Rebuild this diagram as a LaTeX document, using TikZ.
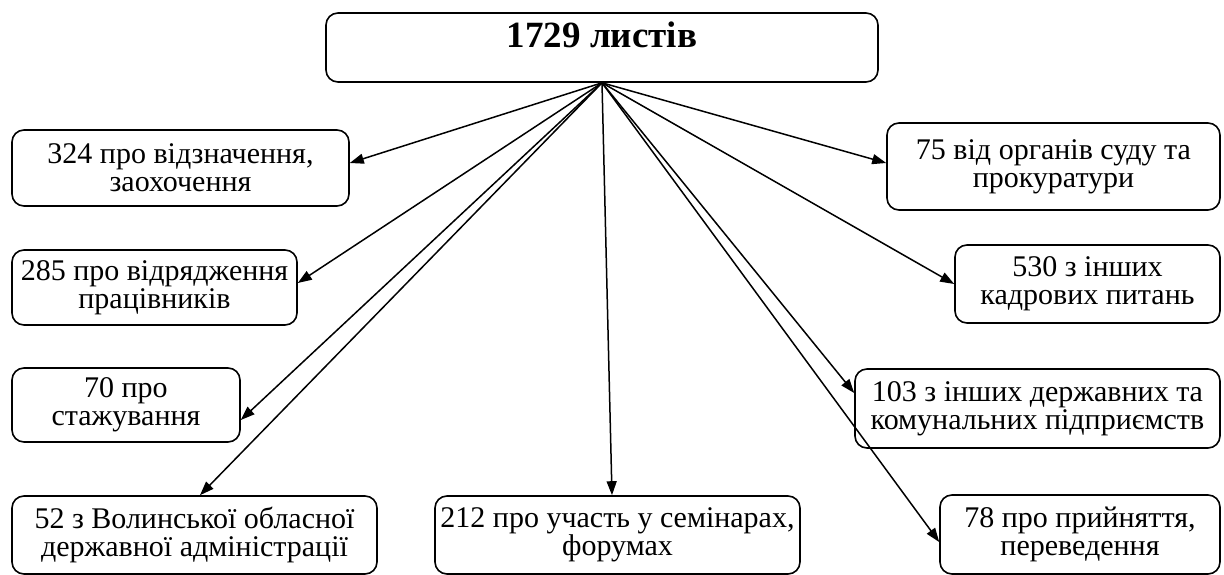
\documentclass[tikz,border=0pt]{standalone}
\usepackage{fontspec}
\setmainfont{Liberation Serif}
\usepackage{tikz}
\usetikzlibrary{arrows.meta}

\begin{document}
\begin{tikzpicture}[x=1pt, y=-1pt,
    box/.style={draw, line width=1.6pt, rounded corners=12pt, inner sep=0pt,
        align=center, font=\fontsize{30}{28}\selectfont},
    arr/.style={line width=1.5pt, -{Triangle[length=14pt, width=10pt]}}]
    \useasboundingbox (0,0) rectangle (1224,575);

    \node[box, minimum width=552pt, minimum height=69pt, text height=12pt, text depth=12pt,
        font=\fontsize{37}{40}\selectfont\bfseries] (total) at (602,47.5) {1729 листів};

    \node[box, minimum width=337pt, minimum height=76pt] (n324) at (180.5,168) {324 про відзначення,\\заохочення};
    \node[box, minimum width=285pt, minimum height=75pt] (n285) at (154.5,287.5) {285 про відрядження\\працівників};
    \node[box, minimum width=228pt, minimum height=74pt] (n70) at (126,405) {70 про\\стажування};
    \node[box, minimum width=365pt, minimum height=78pt] (n52) at (194.5,535) {52 з Волинської обласної\\державної адміністрації};
    \node[box, minimum width=365pt, minimum height=78pt] (n212) at (617.5,535) {212 про участь у семінарах,\\форумах};
    \node[box, minimum width=333pt, minimum height=87pt] (n75) at (1053.5,166.5) {75 від органів суду та\\прокуратури};
    \node[box, minimum width=265pt, minimum height=78pt] (n530) at (1087.5,284) {530 з інших\\кадрових питань};
    \node[box, minimum width=365pt, minimum height=79pt] (n103) at (1037.5,408.5) {103 з інших державних та\\комунальних підприємств};
    \node[box, minimum width=280pt, minimum height=79pt] (n78) at (1080,534.5) {78 про прийняття,\\переведення};

    \draw[arr] (total.south) -- ([yshift=5pt]n324.east);
    \draw[arr] (total.south) -- ([yshift=4.5pt]n285.east);
    \draw[arr] (total.south) -- ([yshift=-15pt]n70.east);
    \draw[arr] (total.south) -- ([xshift=5.5pt]n52.north);
    \draw[arr] (total.south) -- ([xshift=-5.5pt]n212.north);
    \draw[arr] (total.south) -- ([yshift=3.5pt]n75.west);
    \draw[arr] (total.south) -- (n530.west);
    \draw[arr] (total.south) -- ([yshift=15.5pt]n103.west);
    \draw[arr] (total.south) -- ([yshift=-7.5pt]n78.west);
\end{tikzpicture}
\end{document}
